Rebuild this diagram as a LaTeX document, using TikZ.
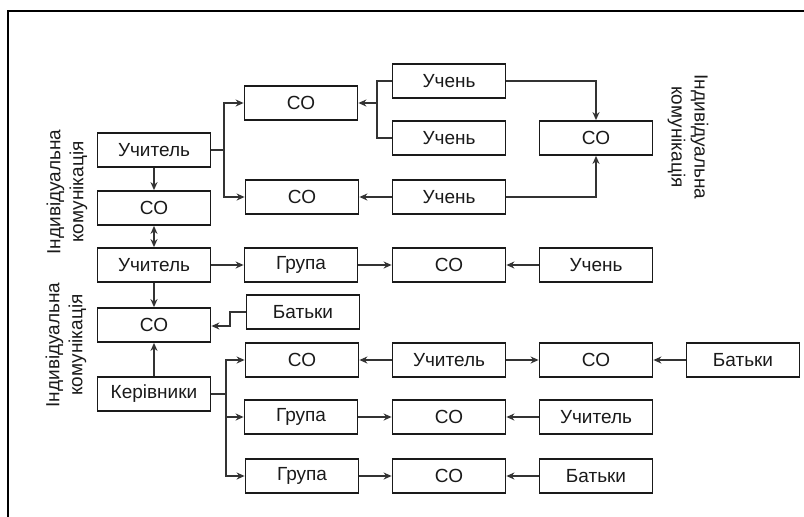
\documentclass[tikz,border=0pt]{standalone}
\usepackage{fontspec}
\setmainfont{Liberation Sans}
\usetikzlibrary{arrows.meta}
\definecolor{ink}{HTML}{1A1A1A}
\definecolor{arr}{HTML}{333333}
\begin{document}
\begin{tikzpicture}[x=1pt,y=-1pt,
  bx/.style={draw=ink,line width=1.8pt,minimum width=113pt,minimum height=34pt,inner sep=0pt,font=\fontsize{19}{21}\selectfont,text=ink},
  ar/.style={draw=arr,line width=1.5pt,-{Stealth[length=8pt,width=7pt]}},
  ln/.style={draw=arr,line width=1.5pt},
  lab/.style={font=\fontsize{19}{23}\selectfont,align=center,text=ink}]
\useasboundingbox (0,0) rectangle (804,517);
\draw[line width=2pt,black] (8,517) -- (8,11) -- (804,11);
% top block
\node[bx] (u1) at (154,150) {Учитель};
\node[bx] (c1) at (154,208) {СО};
\node[bx] (ct1) at (301,103) {СО};
\node[bx] (ct2) at (302,197) {СО};
\node[bx] (s1) at (449,81) {Учень};
\node[bx] (s2) at (449,138) {Учень};
\node[bx] (s3) at (449,197) {Учень};
\node[bx] (cr) at (596,138) {СО};
\node[lab,rotate=90] (l1) at (67,192) {Індивідуальна\\комунікація};
\node[lab,rotate=-90] (l2) at (688,137) {Індивідуальна\\комунікація};
% middle row
\node[bx] (u2) at (154,265) {Учитель};
\node[bx] (g1) at (301,265) {Група};
\node[bx] (cm) at (449,265) {СО};
\node[bx] (sm) at (596,265) {Учень};
% lower block
\node[bx] (c2) at (154,325) {СО};
\node[bx] (b0) at (303,312) {Батьки};
\node[bx] (k) at (154,394) {Керівники};
\node[lab,rotate=90] (l3) at (66,345) {Індивідуальна\\комунікація};
\node[bx] (r1a) at (302,360) {СО};
\node[bx] (r1b) at (449,360) {Учитель};
\node[bx] (r1c) at (596,360) {СО};
\node[bx] (r1d) at (743,360) {Батьки};
\node[bx] (r2a) at (301,417) {Група};
\node[bx] (r2b) at (449,417) {СО};
\node[bx] (r2c) at (596,417) {Учитель};
\node[bx] (r3a) at (302,476) {Група};
\node[bx] (r3b) at (449,476) {СО};
\node[bx] (r3c) at (596,476) {Батьки};
% coordinates
\coordinate (f1) at (224,150);
\coordinate (f2) at (377,103);
\coordinate (f3) at (226,394);
% top connectors
\draw[ln] (u1.east) -- (f1);
\draw[ar] (f1) |- (ct1.west);
\draw[ar] (f1) |- (ct2.west);
\draw[ln] (s1.west) -| (f2);
\draw[ln] (s2.west) -| (f2);
\draw[ar] (f2) -- (ct1.east);
\draw[ar] (s3.west) -- (ct2.east);
\draw[ar] (s1.east) -| (cr.north);
\draw[ar] (s3.east) -| (cr.south);
\draw[ar] (u1.south) -- (c1.north);
\draw[draw=arr,line width=1.5pt,{Stealth[length=8pt,width=7pt]}-{Stealth[length=8pt,width=7pt]}] (c1.south) -- (u2.north);
% middle
\draw[ar] (u2.east) -- (g1.west);
\draw[ar] (g1.east) -- (cm.west);
\draw[ar] (sm.west) -- (cm.east);
\draw[ar] (u2.south) -- (c2.north);
% lower
\draw[ar] (b0.west) -- (230,312) -- (230,326) -- (c2.east |- 0,326);
\draw[ar] (k.north) -- (c2.south);
\draw[ln] (k.east) -- (f3);
\draw[ar] (f3) |- (r1a.west);
\draw[ar] (f3) |- (r2a.west);
\draw[ar] (f3) |- (r3a.west);
\draw[ar] (r1b.west) -- (r1a.east);
\draw[ar] (r1b.east) -- (r1c.west);
\draw[ar] (r1d.west) -- (r1c.east);
\draw[ar] (r2a.east) -- (r2b.west);
\draw[ar] (r2c.west) -- (r2b.east);
\draw[ar] (r3a.east) -- (r3b.west);
\draw[ar] (r3c.west) -- (r3b.east);
\end{tikzpicture}
\end{document}
